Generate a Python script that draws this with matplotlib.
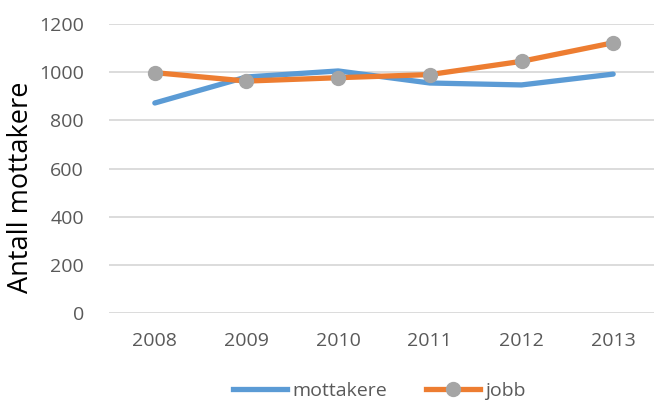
import matplotlib
matplotlib.use("Agg")
import matplotlib.pyplot as plt
from matplotlib.lines import Line2D

plt.rcParams['font.family'] = ['Open Sans', 'DejaVu Sans']

years = ["2008", "2009", "2010", "2011", "2012", "2013"]
mottakere = [872, 980, 1005, 955, 947, 992]
jobb = [998, 963, 977, 990, 1045, 1122]
yticks = [0, 200, 400, 600, 800, 1000, 1200]

blue = "#5B9BD5"
orange = "#ED7D31"
gray = "#A5A5A5"

fig = plt.figure(figsize=(6.54, 4.01), dpi=100)
ax = fig.add_axes([109/654, 88/401, 550/654, 289/401])
x = range(len(years))
ax.plot(x, mottakere, color=blue, lw=3.8, solid_capstyle='round', zorder=3)
ax.plot(x, jobb, color=orange, lw=3.8, solid_capstyle='round', marker='o',
        markersize=10, markerfacecolor=gray, markeredgecolor=gray, zorder=4)

ax.set_xlim(-0.5, len(years) - 0.5)
ax.set_ylim(0, 1200)
ax.set_yticks(yticks)
ax.set_xticks(list(x))
ax.set_xticklabels(years)
ax.grid(axis='y', color='#D9D9D9', lw=1.3)
ax.set_axisbelow(True)
for s in ax.spines.values():
    s.set_visible(False)
ax.tick_params(length=0, labelsize=14, labelcolor='#595959')
ax.tick_params(axis='y', pad=18)
ax.tick_params(axis='x', pad=14)
fig.text(21/654, 1 - 187.5/401, "Antall mottakere", rotation=90, fontsize=19.5,
         color='black', ha='center', va='center')

handles = [Line2D([], [], color=blue, lw=3.8),
           Line2D([], [], color=orange, lw=3.8, marker='o', markersize=10,
                  markerfacecolor=gray, markeredgecolor=gray)]
fig.legend(handles, ["mottakere", "jobb"], loc='center', bbox_to_anchor=(379/654, 1 - 391/401),
           ncol=2, frameon=False, fontsize=14, handlelength=2.8, handletextpad=0.25,
           columnspacing=2.0, labelcolor='#595959')

fig.savefig("out.png", dpi=100)
